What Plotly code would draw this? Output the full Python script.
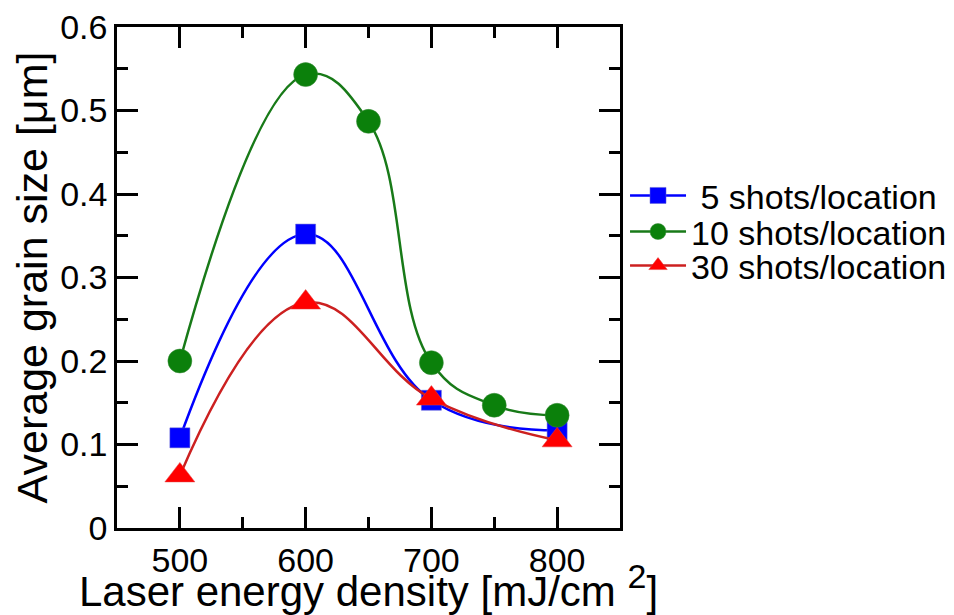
import plotly.graph_objects as go

# Data
x_5 = [500, 600, 700, 800]
y_5 = [0.108, 0.352, 0.153, 0.117]

x_10 = [500, 600, 650, 700, 750, 800]
y_10 = [0.200, 0.543, 0.487, 0.198, 0.147, 0.135]

x_30 = [500, 600, 700, 800]
y_30 = [0.063, 0.270, 0.155, 0.105]

names = ["\u00a05 shots/location", "10 shots/location", "30 shots/location"]

FONT = "Liberation Sans, Arial, sans-serif"

fig = go.Figure()

fig.add_trace(go.Scatter(
    x=x_5, y=y_5, name=names[0], mode="lines+markers", legend="legend",
    line=dict(color="#0000ff", width=2.5, shape="spline", smoothing=1.2),
    marker=dict(symbol="square", size=20, color="#0000ff",
                line=dict(color="#6060d0", width=0.5)),
))
fig.add_trace(go.Scatter(
    x=x_10, y=y_10, name=names[1], mode="lines+markers", legend="legend2",
    line=dict(color="#187a18", width=2.5, shape="spline", smoothing=1.2),
    marker=dict(symbol="circle", size=24, color="#0b800b",
                line=dict(color="#3a8a3a", width=0.5)),
))
fig.add_trace(go.Scatter(
    x=x_30, y=y_30, name=names[2], mode="lines+markers", legend="legend3",
    line=dict(color="#cc2020", width=2.5, shape="spline", smoothing=1.2),
    marker=dict(symbol="triangle-up", size=26, color="#ff0000",
                line=dict(color="#e04040", width=0.5)),
))

axis_common = dict(
    showline=True, linecolor="black", linewidth=2.5, mirror="allticks",
    ticks="inside", ticklen=21, tickwidth=2.5, tickcolor="black",
    showgrid=False, zeroline=False, automargin=False,
    tickfont=dict(family=FONT, size=34, color="black"),
)

fig.update_xaxes(
    range=[450, 850], tickvals=[500, 600, 700, 800],
    minor=dict(ticks="inside", ticklen=11, tickwidth=2.5, tickcolor="black",
               dtick=50, tick0=450, showgrid=False),
    title=dict(text="Laser energy density [mJ/cm <sup><span style='font-size:34px'>2</span></sup>]",
               font=dict(family=FONT, size=42, color="black"), standoff=5),
    **axis_common,
)
fig.update_yaxes(
    range=[0, 0.6], tickvals=[0, 0.1, 0.2, 0.3, 0.4, 0.5, 0.6],
    ticktext=["0", "0.1", "0.2", "0.3", "0.4", "0.5", "0.6"],
    minor=dict(ticks="inside", ticklen=11, tickwidth=2.5, tickcolor="black",
               dtick=0.05, tick0=0, showgrid=False),
    title=dict(text="Average grain size [μm]",
               font=dict(family=FONT, size=43, color="black"), standoff=0),
    **axis_common,
)

leg_common = dict(
    x=1.010, xanchor="left", yanchor="middle", itemwidth=56,
    font=dict(family=FONT, size=34, color="black"),
    bgcolor="rgba(0,0,0,0)", borderwidth=0,
)

fig.update_layout(
    width=954, height=615,
    margin=dict(l=117, r=334, t=27, b=87, autoexpand=False),
    paper_bgcolor="white", plot_bgcolor="white",
    showlegend=True,
    legend=dict(y=0.663, **leg_common),
    legend2=dict(y=0.591, **leg_common),
    legend3=dict(y=0.523, **leg_common),
)

fig.write_html("out.html")
